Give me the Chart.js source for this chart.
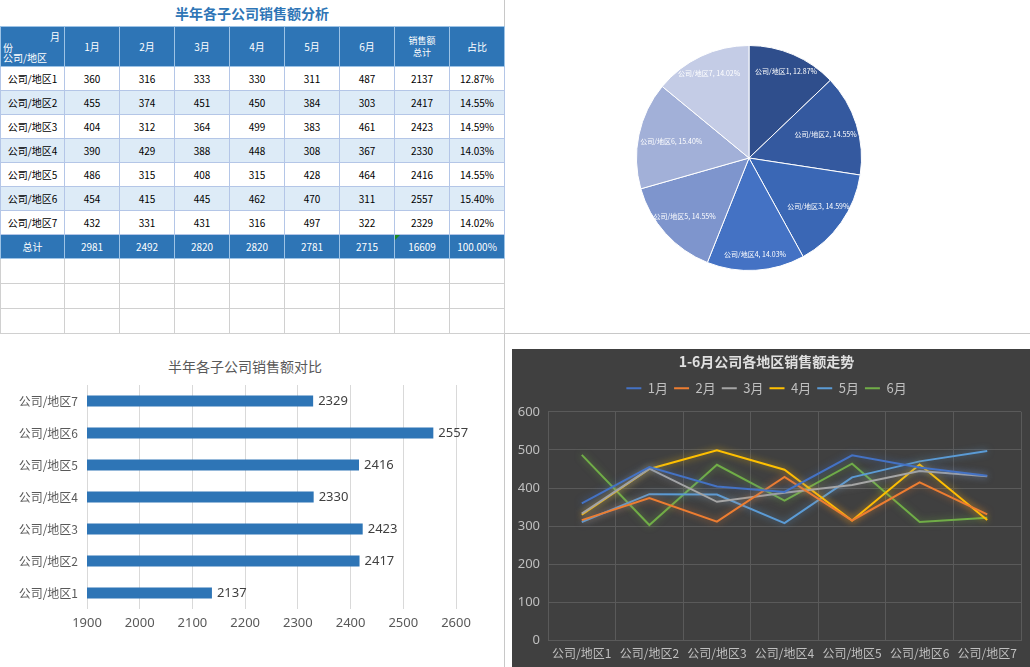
<!DOCTYPE html>
<html>
<head>
<meta charset="utf-8">
<script src="https://cdn.jsdelivr.net/npm/chart.js@4"></script>
<style>
  body { margin: 0; width: 1030px; height: 667px; overflow: hidden; background: #fff; position: relative;
         font-family: "Noto Sans CJK SC", "Noto Sans", sans-serif; }
  .vline { position: absolute; left: 504px; top: 0; width: 1px; height: 667px; background: #c8c8c8; }
  .hline { position: absolute; left: 0; top: 333px; width: 1030px; height: 1px; background: #c8c8c8; }
  #tableTitle { position: absolute; left: 0; top: 3px; width: 504px; text-align: center;
                font-size: 14px; font-weight: bold; color: #2e75b6; }
  table { position: absolute; left: 0; top: 26px; border-collapse: collapse; table-layout: fixed; font-size: 10px; }
  td { border: 1px solid #b4c6e7; text-align: center; padding: 0; height: 23px; color: #000; }
  tr.head td { background: #2e75b6; color: #fff; height: 39px; border-color: #9dc3e6; }
  tr.alt td { background: #ddebf7; }
  tr.total td { background: #2e75b6; color: #fff; border-color: #9dc3e6; }
  tr.empty td { border-color: #d0d0d0; height: 24px; }
  td.diag { position: relative; background: #2e75b6 url("data:image/svg+xml;utf8,<svg xmlns='http://www.w3.org/2000/svg' width='64' height='40'><line x1='0' y1='0' x2='64' y2='40' stroke='%239dc3e6' stroke-width='1'/></svg>") no-repeat; }
  td.diag span { position: absolute; font-size: 10px; }
  td.mark { position: relative; }
  td.mark::before { content: ""; position: absolute; left: 0; top: 0; border-top: 5px solid #1e8c1e; border-right: 5px solid transparent; }
  #pieBox { position: absolute; left: 599px; top: 8px; width: 300px; height: 300px; }
  #barTitle { position: absolute; left: 0; top: 356px; width: 490px; text-align: center; font-size: 14px; color: #595959; }
  #barBox { position: absolute; left: 0; top: 335px; width: 504px; height: 332px; }
  #lineBox { position: absolute; left: 512px; top: 349px; width: 518px; height: 318px; background: #404040; }
</style>
</head>
<body>
<div class="vline"></div>
<div class="hline"></div>
<div id="tableTitle">半年各子公司销售额分析</div>
<table id="salesTable"></table>
<div id="pieBox"><canvas id="pieChart"></canvas></div>
<div id="barTitle">半年各子公司销售额对比</div>
<div id="barBox"><canvas id="barChart"></canvas></div>
<div id="lineBox"><canvas id="lineChart"></canvas></div>

<script>
// 数据
const regions = ['公司/地区1', '公司/地区2', '公司/地区3', '公司/地区4', '公司/地区5', '公司/地区6', '公司/地区7'];
const months = ['1月', '2月', '3月', '4月', '5月', '6月'];
const jan = [360, 455, 404, 390, 486, 454, 432];
const feb = [316, 374, 312, 429, 315, 415, 331];
const mar = [333, 451, 364, 388, 408, 445, 431];
const apr = [330, 450, 499, 448, 315, 462, 316];
const may = [311, 384, 383, 308, 428, 470, 497];
const jun = [487, 303, 461, 367, 464, 311, 322];
const totals = [2137, 2417, 2423, 2330, 2416, 2557, 2329];
const shares = ['12.87%', '14.55%', '14.59%', '14.03%', '14.55%', '15.40%', '14.02%'];
const monthTotals = [2981, 2492, 2820, 2820, 2781, 2715];
const grandTotal = 16609;
const grandShare = '100.00%';
const barTicks = [1900, 2600, 100];
const lineTicks = [0, 600, 100];

const monthSeries = [jan, feb, mar, apr, may, jun];
const lineColors = ['#4472c4', '#ed7d31', '#a5a5a5', '#ffc000', '#5b9bd5', '#70ad47'];
const pieColors = ['#2f4e8c', '#34599f', '#3a67b5', '#4472c4', '#7e95cd', '#a2b0d8', '#c4cce6'];

// 表格
function buildTable() {
  const table = document.getElementById('salesTable');
  let html = '<colgroup><col style="width:64px">';
  for (let i = 0; i < 8; i++) html += '<col style="width:55px">';
  html += '</colgroup>';
  html += '<tr class="head"><td class="diag">' +
    '<span style="right:4px;top:2px">月</span>' +
    '<span style="left:2px;top:13px">份</span>' +
    '<span style="left:2px;bottom:1px">公司/地区</span></td>';
  months.forEach(m => { html += `<td>${m}</td>`; });
  html += '<td style="font-size:9px;line-height:12px">销售额<br>总计</td><td>占比</td></tr>';
  regions.forEach((r, i) => {
    html += `<tr class="${i % 2 === 1 ? 'alt' : ''}"><td>${r}</td>`;
    monthSeries.forEach(s => { html += `<td>${s[i]}</td>`; });
    html += `<td>${totals[i]}</td><td>${shares[i]}</td></tr>`;
  });
  html += '<tr class="total"><td>总计</td>';
  monthTotals.forEach(t => { html += `<td>${t}</td>`; });
  html += `<td class="mark">${grandTotal}</td><td>${grandShare}</td></tr>`;
  for (let k = 0; k < 3; k++) {
    html += '<tr class="empty">';
    for (let c = 0; c < 9; c++) html += '<td></td>';
    html += '</tr>';
  }
  table.innerHTML = html;
}
buildTable();

// 饼图标签（竖直方向的扇区标签放得更靠外）
const pieLabels = {
  id: 'pieLabels',
  afterDatasetsDraw(chart) {
    const ctx = chart.ctx;
    const meta = chart.getDatasetMeta(0);
    ctx.save();
    ctx.fillStyle = '#ffffff';
    ctx.font = '7px "Noto Sans CJK SC", sans-serif';
    ctx.textAlign = 'center';
    ctx.textBaseline = 'middle';
    meta.data.forEach((arc, i) => {
      const mid = (arc.startAngle + arc.endAngle) / 2;
      const s = Math.sin(mid);
      const r = arc.outerRadius * (0.7 + 0.16 * s * s);
      ctx.fillText(`${regions[i]}, ${shares[i]}`, arc.x + Math.cos(mid) * r, arc.y + s * r);
    });
    ctx.restore();
  }
};

new Chart(document.getElementById('pieChart'), {
  type: 'pie',
  data: {
    labels: regions,
    datasets: [{
      data: totals,
      backgroundColor: pieColors,
      borderColor: '#ffffff',
      borderWidth: 1
    }]
  },
  options: {
    responsive: true,
    maintainAspectRatio: false,
    animation: false,
    layout: { padding: 37 },
    plugins: { legend: { display: false }, tooltip: { enabled: false } }
  },
  plugins: [pieLabels]
});

// 条形图数据标签
const barLabels = {
  id: 'barLabels',
  afterDatasetsDraw(chart) {
    const ctx = chart.ctx;
    const meta = chart.getDatasetMeta(0);
    ctx.save();
    ctx.fillStyle = '#404040';
    ctx.font = '13px "Noto Sans", sans-serif';
    ctx.textAlign = 'left';
    ctx.textBaseline = 'middle';
    meta.data.forEach((bar, i) => {
      ctx.fillText(String(totals[i]), bar.x + 5, bar.y);
    });
    ctx.restore();
  }
};

new Chart(document.getElementById('barChart'), {
  type: 'bar',
  data: {
    labels: regions,
    datasets: [{
      data: totals,
      backgroundColor: '#2e75b6',
      barPercentage: 0.35,
      categoryPercentage: 1
    }]
  },
  options: {
    indexAxis: 'y',
    responsive: true,
    maintainAspectRatio: false,
    animation: false,
    layout: { padding: { left: 0, right: 48, top: 50, bottom: 28 } },
    plugins: { legend: { display: false }, tooltip: { enabled: false } },
    scales: {
      x: {
        min: barTicks[0],
        max: barTicks[1],
        ticks: {
          stepSize: barTicks[2], color: '#595959',
          font: { size: 13, family: '"Noto Sans", sans-serif' }, padding: 6,
          callback: v => String(v)
        },
        grid: { color: '#d9d9d9', drawTicks: false },
        border: { display: false },
        afterFit(scale) { scale.height = 30; }
      },
      y: {
        reverse: true,
        ticks: { color: '#595959', font: { size: 12, family: '"Noto Sans CJK SC", sans-serif' }, padding: 1 },
        grid: { display: false },
        border: { display: false },
        afterFit(scale) { scale.width = 87; }
      }
    }
  },
  plugins: [barLabels]
});

// 折线发光效果
const glow = {
  id: 'glow',
  beforeDatasetDraw(chart, args) {
    const ctx = chart.ctx;
    ctx.save();
    ctx.shadowColor = lineColors[args.index] + 'aa';
    ctx.shadowBlur = 7;
  },
  afterDatasetDraw(chart) {
    chart.ctx.restore();
  }
};

// 图例下方多留一点空白
const legendGap = {
  id: 'legendGap',
  beforeInit(chart) {
    const fit = chart.legend.fit;
    chart.legend.fit = function () {
      fit.call(this);
      this.height += 7;
    };
  }
};

new Chart(document.getElementById('lineChart'), {
  type: 'line',
  data: {
    labels: regions,
    datasets: months.map((m, i) => ({
      label: m,
      data: monthSeries[i],
      borderColor: lineColors[i],
      backgroundColor: lineColors[i],
      borderWidth: 2,
      pointRadius: 0,
      pointStyle: 'line',
      tension: 0
    }))
  },
  options: {
    responsive: true,
    maintainAspectRatio: false,
    animation: false,
    layout: { padding: { left: 0, right: 9, top: 4, bottom: 0 } },
    plugins: {
      title: {
        display: true,
        text: '1-6月公司各地区销售额走势',
        color: '#e0e0e0',
        font: { size: 14, weight: 'bold', family: '"Noto Sans CJK SC", sans-serif' },
        padding: { top: 0, bottom: 6 }
      },
      legend: {
        labels: {
          color: '#bfbfbf',
          font: { size: 13, family: '"Noto Sans CJK SC", sans-serif' },
          usePointStyle: true,
          pointStyleWidth: 15,
          boxHeight: 13,
          padding: 6
        }
      },
      tooltip: { enabled: false }
    },
    scales: {
      x: {
        offset: true,
        ticks: { color: '#bfbfbf', font: { size: 12, family: '"Noto Sans CJK SC", sans-serif' }, padding: 6, maxRotation: 0, autoSkip: false },
        grid: { offset: true, color: '#5a5a5a', drawTicks: false },
        border: { display: false }
      },
      y: {
        min: lineTicks[0],
        max: lineTicks[1],
        ticks: { stepSize: lineTicks[2], color: '#bfbfbf', font: { size: 13, family: '"Noto Sans", sans-serif' }, padding: 8 },
        grid: { color: '#5a5a5a', drawTicks: false },
        border: { display: false },
        afterFit(scale) { scale.width = 36; }
      }
    }
  },
  plugins: [glow, legendGap]
});
</script>
</body>
</html>
